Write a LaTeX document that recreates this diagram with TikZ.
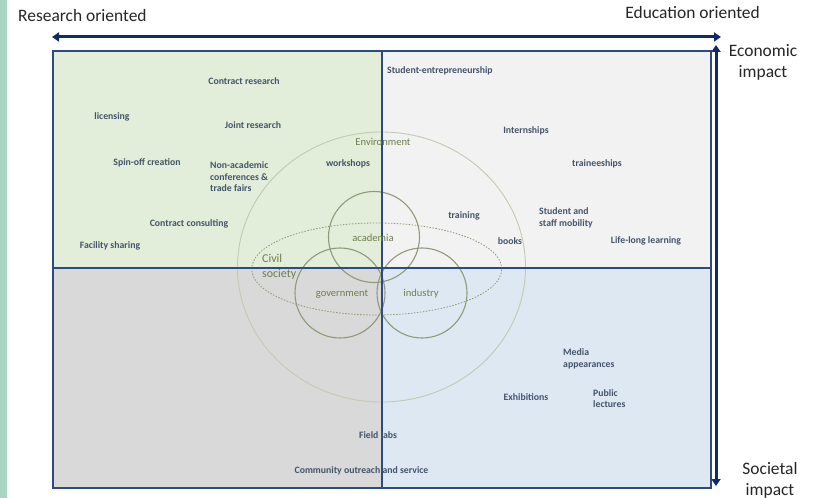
\documentclass[tikz,border=0pt]{standalone}
\usepackage{fontspec}
\setmainfont{Carlito}
\usetikzlibrary{arrows.meta}
\definecolor{strip}{HTML}{A9D5C5}
\definecolor{qgreen}{HTML}{E2EED9}
\definecolor{qlight}{HTML}{F2F2F2}
\definecolor{qgrey}{HTML}{D9D9D9}
\definecolor{qblue}{HTML}{DEE8F3}
\definecolor{navy}{HTML}{102B6A}
\definecolor{qborder}{HTML}{2F4A80}
\definecolor{lbl}{HTML}{44546A}
\definecolor{grn}{HTML}{6E7F4E}
\definecolor{ring}{HTML}{C3C9B2}
\definecolor{circ}{HTML}{8E9B78}
\tikzset{
  quad/.style={draw=qborder, line width=1.6bp},
  item/.style={text=lbl, font=\fontsize{9.8}{11.5}\selectfont\bfseries, inner sep=0pt, align=left},
  glabel/.style={text=grn, font=\fontsize{10.6}{12}\selectfont, inner sep=0pt, align=left},
  axislbl/.style={text=black!85, font=\fontsize{17.5}{21}\selectfont, inner sep=0pt, align=center},
  bigarrow/.style={draw=navy, line width=3bp, {Triangle[length=7bp,width=9bp]}-{Triangle[length=7bp,width=9bp]}},
}
\begin{document}
\begin{tikzpicture}[x=1bp,y=-1bp]
\useasboundingbox (0,0) rectangle (817,498);
\fill[white] (0,0) rectangle (817,498);
\fill[strip] (0,0) rectangle (7,498);
% quadrants
\filldraw[quad, fill=qgreen] (53,51) rectangle (382,268);
\filldraw[quad, fill=qlight] (382,51) rectangle (711,268);
\filldraw[quad, fill=qgrey] (53,268) rectangle (382,488);
\filldraw[quad, fill=qblue] (382,268) rectangle (711,488);
% circles
\draw[ring, line width=0.9bp] (381.5,267) ellipse [x radius=144bp, y radius=135bp];
\draw[circ, line width=1.1bp] (374,237) circle (45.5bp);
\draw[circ, line width=1.1bp] (340,293) circle (45bp);
\draw[circ, line width=1.1bp] (422,293) circle (45bp);
\draw[circ, line width=0.8bp, dash pattern=on 1.5bp off 1.5bp] (376.7,269) ellipse [x radius=125bp, y radius=46bp];
% dividers on top
\draw[quad] (382,51) -- (382,488);
\draw[quad] (53,268) -- (711,268);
% axes
\coordinate (hl) at (52,37);
\coordinate (hr) at (721,37);
\coordinate (vt) at (716,45);
\coordinate (vb) at (716,486);
\draw[bigarrow] (hl) -- (hr);
\draw[bigarrow] (vt) -- (vb);
\node[axislbl, anchor=west] (ro) at (18,15.5) {Research oriented};
\node[axislbl, anchor=east] (eo) at (760,12.5) {Education oriented};
\node[axislbl] (ei) at (763,62) {Economic\\impact};
\node[axislbl] (si) at (770,480) {Societal\\impact};
% green labels
\node[glabel] (env) at (383,141.5) {Environment};
\node[glabel] (aca) at (373,237.5) {academia};
\node[glabel, anchor=west, font=\fontsize{12}{15}\selectfont] (civ) at (262,267) {Civil\\society};
\node[glabel] (gov) at (342,294.5) {government};
\node[glabel] (ind) at (421,293.5) {industry};
% items
\begin{scope}[yshift=-0.7bp]
\node[item] (cr) at (244,80) {Contract research};
\node[item] (lic) at (112,116) {licensing};
\node[item] (jr) at (253,124) {Joint research};
\node[item] (spin) at (147,162) {Spin-off creation};
\node[item, anchor=west] (nac) at (210,176) {Non-academic\\conferences \&\\trade fairs};
\node[item] (ws) at (348,163) {workshops};
\node[item] (cc) at (189,223) {Contract consulting};
\node[item] (fs) at (110,245) {Facility sharing};
\node[item, anchor=west] (se) at (387,70) {Student-entrepreneurship};
\node[item] (int) at (526,130) {Internships};
\node[item] (tr) at (597,163) {traineeships};
\node[item] (trn) at (464,215) {training};
\node[item, anchor=west] (ssm) at (539,217) {Student and\\staff mobility};
\node[item] (bk) at (510,240) {books};
\node[item] (lll) at (646,240) {Life-long learning};
\node[item, anchor=west] (med) at (563,358) {Media\\appearances};
\node[item] (exh) at (526,396) {Exhibitions};
\node[item, anchor=west] (pl) at (593,398) {Public\\lectures};
\node[item] (fl) at (378,434) {Field labs};
\node[item] (co) at (361.5,470) {Community outreach and service};
\end{scope}
\end{tikzpicture}
\end{document}
